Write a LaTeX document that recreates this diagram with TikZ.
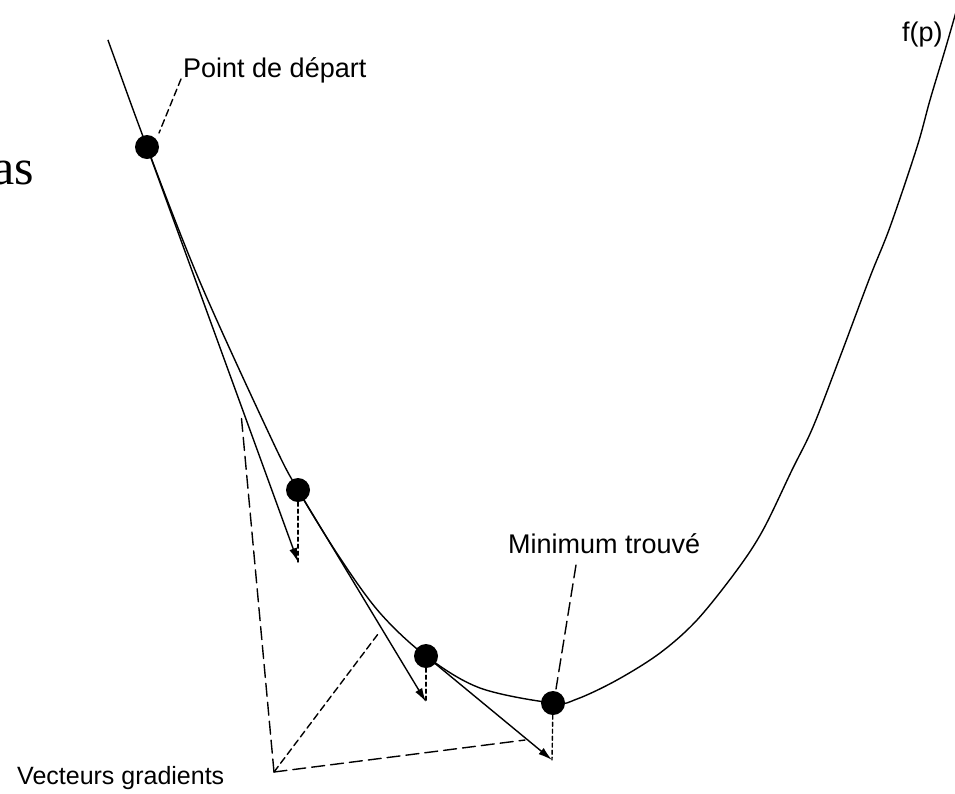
\documentclass[tikz,border=0pt]{standalone}
\usepackage{fontspec}
\setmainfont{Liberation Sans}
\newfontfamily\serifpart{Liberation Serif}
\usetikzlibrary{arrows.meta}
\tikzset{
  ln/.style={line width=1.4pt, line cap=round},
  dot/.style={circle, fill=black, draw=none, minimum size=24pt, inner sep=0pt},
  grad/.style={ln, -{Latex[length=14pt,width=8pt]}},
  vdot/.style={ln, dash pattern=on 4pt off 3pt},
  vecdash/.style={ln, dash pattern=on 13pt off 6pt},
  leader/.style={ln, dash pattern=on 7pt off 4pt},
  lbl/.style={inner sep=0pt, anchor=base west, font=\fontsize{27}{30}\selectfont}
}
\begin{document}
\begin{tikzpicture}[x=1pt,y=-1pt]
\useasboundingbox (0,0) rectangle (955,793);
\clip (0,0) rectangle (955,793);
\fill[white] (0,0) rectangle (955,793);

% fragment of surrounding text
\node[inner sep=0pt, anchor=base east, font=\serifpart\fontsize{50}{55}\selectfont] (frag) at (34,184) {as};

% the function curve
\draw[ln] plot[smooth, tension=0.55] coordinates {
 (108,40) (113,54) (147,147) (200,282) (272,440) (298,490) (340,558) (380,613)
 (426,656) (480,688) (553,703) (577,699) (617,680) (660,653) (697,620)
 (737,570) (763,530) (792,470) (813,427) (840,357) (870,277) (890,227)
 (917,147) (930,100) (945,50) (956,12)};

% points on the curve
\node[dot] (d1) at (147,147) {};
\node[dot] (d2) at (298,490) {};
\node[dot] (d3) at (426,656) {};
\node[dot] (d4) at (553,703) {};

% gradient tips
\coordinate (t1) at (298,562);
\coordinate (t2) at (426,702);
\coordinate (t3) at (552,760);

\draw[grad] (d1.center) -- (t1);
\draw[grad] (d2.center) -- (t2);
\draw[grad] (d3.center) -- (t3);

\draw[vdot] (d2) -- (t1);
\draw[vdot] (d3) -- (t2);
\draw[vdot] (d4) -- (t3);

% labels
\node[lbl] (start) at (183,77) {Point de départ};
\node[lbl] (minl) at (508,553) {Minimum trouvé};
\node[lbl, font=\fontsize{25}{28}\selectfont] (vec) at (17,784) {Vecteurs gradients};
\node[lbl] (fp) at (902,41) {f(p)};

% leaders
\coordinate (s1) at (181,79);
\coordinate (s2) at (159,133);
\draw[leader] (s1) -- (s2);
\coordinate (m1) at (576,565);
\coordinate (m2) at (556,689);
\draw[vecdash] (m1) -- (m2);

% gradient vector leaders
\coordinate (v) at (274,772);
\coordinate (a1) at (241,413);
\coordinate (a2) at (378,634);
\coordinate (a3) at (525,740);
\draw[vecdash] (v) -- (a1);
\draw[leader] (v) -- (a2);
\draw[vecdash] (v) -- (a3);
\end{tikzpicture}
\end{document}
